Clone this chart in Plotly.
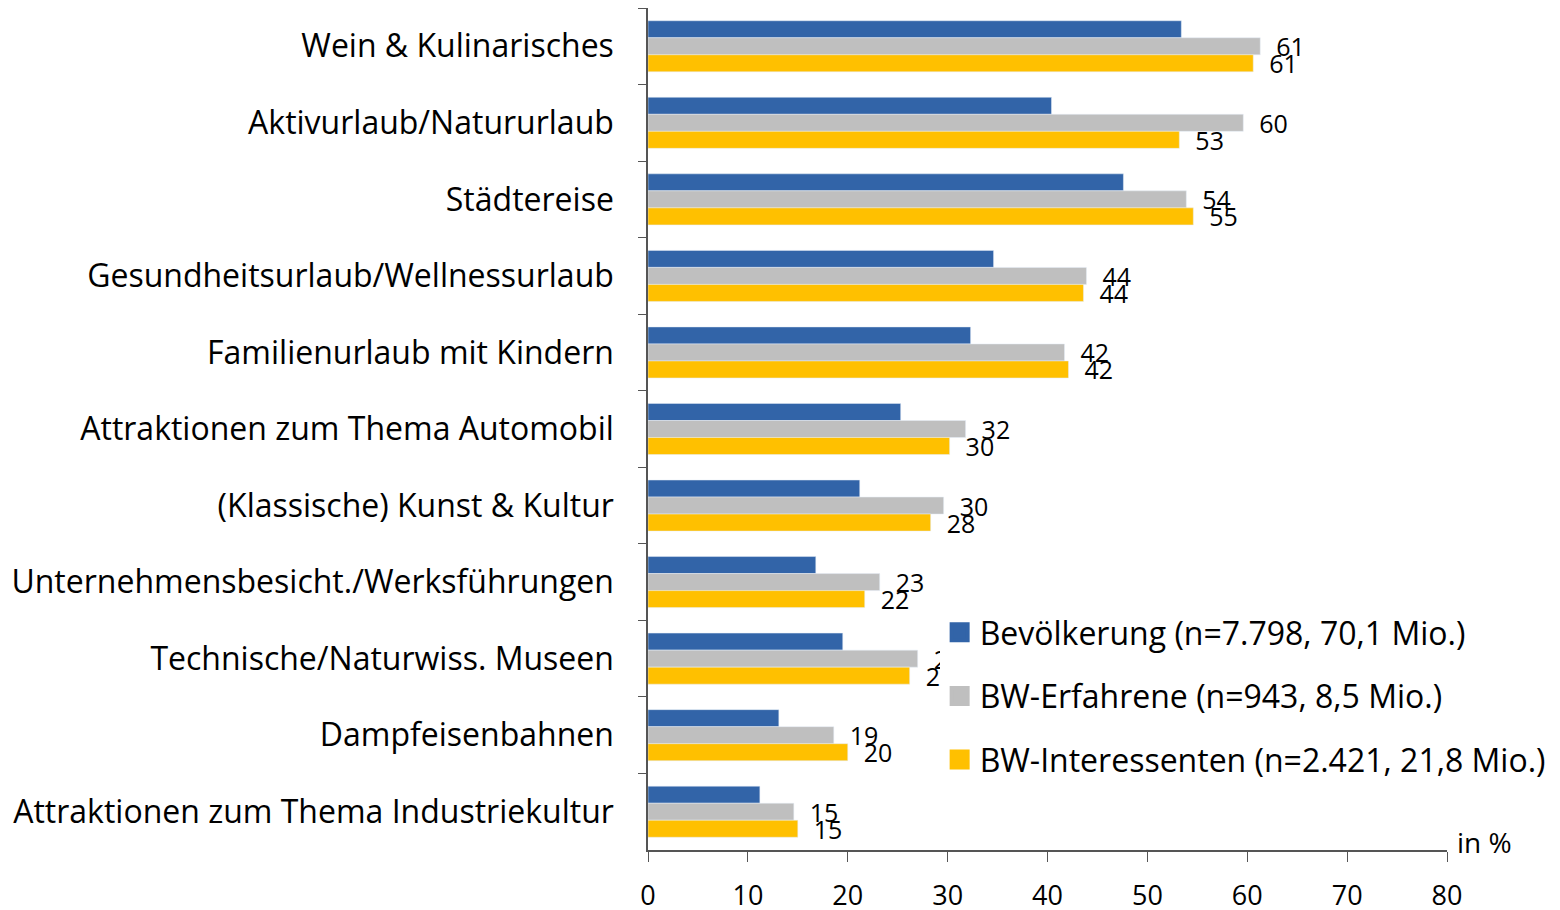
import plotly.graph_objects as go

categories = [
    "Wein & Kulinarisches",
    "Aktivurlaub/Natururlaub",
    "Städtereise",
    "Gesundheitsurlaub/Wellnessurlaub",
    "Familienurlaub mit Kindern",
    "Attraktionen zum Thema Automobil",
    "(Klassische) Kunst & Kultur",
    "Unternehmensbesicht./Werksführungen",
    "Technische/Naturwiss. Museen",
    "Dampfeisenbahnen",
    "Attraktionen zum Thema Industriekultur",
]
bevoelkerung = [53.4, 40.4, 47.6, 34.6, 32.3, 25.3, 21.2, 16.8, 19.5, 13.1, 11.2]
bw_erfahrene = [61.3, 59.6, 53.9, 43.9, 41.7, 31.8, 29.6, 23.2, 27.0, 18.6, 14.6]
bw_interessenten = [60.6, 53.2, 54.6, 43.6, 42.1, 30.2, 28.3, 21.7, 26.2, 20.0, 15.0]
erfahrene_labels = ["61", "60", "54", "44", "42", "32", "30", "23", "27", "19", "15"]
interessenten_labels = ["61", "53", "55", "44", "42", "30", "28", "22", "26", "20", "15"]
series_names = [
    "Bevölkerung (n=7.798, 70,1 Mio.)",
    "BW-Erfahrene (n=943, 8,5 Mio.)",
    "BW-Interessenten (n=2.421, 21,8 Mio.)",
]
x_ticks = [0, 10, 20, 30, 40, 50, 60, 70, 80]

FONT = "Open Sans"
colors = ["#3264A8", "#BFBFBF", "#FFC000"]
groups = ["a", "b", "c"]
pad = "\u00a0\u00a0"
label_font = dict(family=FONT, size=25, color="#000000")

fig = go.Figure()
fig.add_trace(go.Bar(
    y=categories, x=bevoelkerung, orientation="h", name=series_names[0],
    marker=dict(color=colors[0]), legendgroup=groups[0], showlegend=False,
))
fig.add_trace(go.Bar(
    y=categories, x=bw_erfahrene, orientation="h", name=series_names[1],
    marker=dict(color=colors[1]), legendgroup=groups[1], showlegend=False,
    text=[pad + t for t in erfahrene_labels], textposition="outside",
    constraintext="none", cliponaxis=False, textfont=label_font,
))
fig.add_trace(go.Bar(
    y=categories, x=bw_interessenten, orientation="h", name=series_names[2],
    marker=dict(color=colors[2]), legendgroup=groups[2], showlegend=False,
    text=[pad + t for t in interessenten_labels], textposition="outside",
    constraintext="none", cliponaxis=False, textfont=label_font,
))
# legend entries with larger square swatches
for name, col, grp in zip(series_names, colors, groups):
    fig.add_trace(go.Scatter(
        x=[None], y=[None], mode="markers", name=name, legendgroup=grp,
        marker=dict(symbol="square", size=16, color=col,
                    line=dict(color=col, width=4)),
        hoverinfo="skip",
    ))

fig.update_layout(
    width=1560, height=910,
    margin=dict(l=640, r=121, t=0, b=68),
    paper_bgcolor="white", plot_bgcolor="white",
    barmode="group", bargap=0.333, bargroupgap=0,
    font=dict(family=FONT, color="#000000"),
    showlegend=True,
    legend=dict(
        x=0.365, y=0.291, xanchor="left", yanchor="top",
        bgcolor="white", font=dict(family=FONT, size=32, color="#000000"),
        traceorder="grouped", tracegroupgap=19, itemwidth=30,
    ),
    xaxis=dict(
        range=[0, 80], tickvals=x_ticks, ticks="outside", ticklen=10,
        tickcolor="#555555", showline=True, linecolor="#555555", linewidth=1.5,
        showgrid=False, zeroline=False,
        tickfont=dict(family=FONT, size=27, color="#000000"),
        ticklabelstandoff=11,
    ),
    yaxis=dict(
        autorange="reversed", type="category", ticks="outside", ticklen=8,
        tickson="boundaries", tickcolor="#555555",
        showline=True, linecolor="#555555", linewidth=1.5,
        showgrid=False, zeroline=False,
        tickfont=dict(family=FONT, size=32, color="#000000"),
        ticklabelstandoff=26,
    ),
    annotations=[dict(
        text="in %", xref="paper", yref="paper", x=1.0, y=0.0,
        xanchor="left", yanchor="bottom", xshift=8, yshift=-13,
        showarrow=False, font=dict(family=FONT, size=28, color="#000000"),
    )],
)

fig.write_html("out.html")
